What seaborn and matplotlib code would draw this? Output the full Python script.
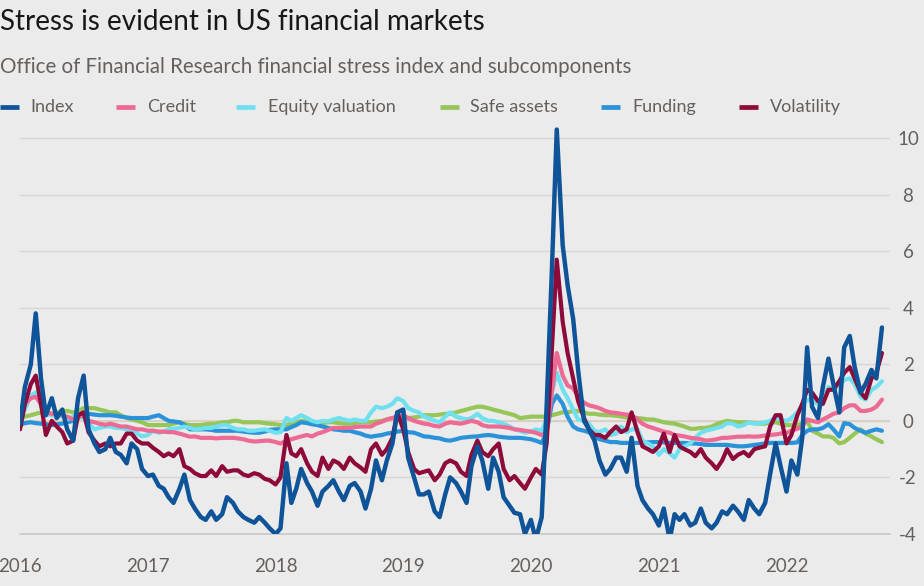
import numpy as np
import pandas as pd
import matplotlib
matplotlib.use("Agg")
import matplotlib.pyplot as plt
import matplotlib.dates as mdates
from matplotlib.lines import Line2D
import seaborn as sns

# ---- data (semi-monthly observations, Jan 2016 - Oct 2022) ----
dates = pd.date_range("2016-01-01", "2022-10-01", freq="SMS")

index_vals = [
    -0.1, 1.2, 2.0, 3.8, 1.5, 0.2, 0.8, 0.1, 0.4, -0.3,
    -0.7, 0.8, 1.6, -0.3, -0.8, -1.1, -1.0, -0.6, -1.1, -1.2,
    -1.5, -0.8, -1.0, -1.7, -1.95, -1.9, -2.3, -2.4, -2.7, -2.9,
    -2.4, -1.9, -2.8, -3.1, -3.4, -3.5, -3.2, -3.5, -3.3, -2.7,
    -2.9, -3.2, -3.4, -3.5, -3.6, -3.4, -3.6, -3.8, -4.0, -3.8,
    -1.5, -2.9, -2.4, -1.7, -2.2, -2.5, -3.0, -2.5, -2.3, -2.1,
    -2.5, -2.8, -2.3, -2.2, -2.5, -3.1, -2.4, -1.4, -2.1, -1.4,
    -0.8, 0.3, 0.4, -1.3, -2.0, -2.6, -2.6, -2.5, -3.2, -3.4,
    -2.6, -2.0, -2.2, -2.5, -2.9, -1.6, -0.9, -1.4, -2.4, -1.3,
    -1.8, -2.7, -3.0, -3.25, -3.3, -4.0, -3.5, -4.2, -3.4, 0.5,
    5.3, 10.3, 6.2, 4.8, 3.6, 1.8, 0.0, -0.3, -0.7, -1.4,
    -1.9, -1.7, -1.3, -1.3, -1.8, -0.6, -2.3, -2.8, -3.1, -3.3,
    -3.7, -3.1, -4.2, -3.3, -3.5, -3.3, -3.7, -3.6, -3.1, -3.6,
    -3.8, -3.6, -3.2, -3.3, -3.0, -3.2, -3.5, -2.8, -3.1, -3.3,
    -2.9, -1.9, -0.8, -1.6, -2.5, -1.4, -1.9, -0.6, 2.6, 0.5,
    0.1, 1.2, 2.2, 1.3, 0.3, 2.6, 3.0, 1.9, 1.0, 1.3,
    1.8, 1.5, 3.3,
]

credit_vals = [
    0.35, 0.6, 0.8, 0.85, 0.6, 0.3, 0.25, 0.25, 0.2, 0.15,
    0.05, 0.15, 0.2, 0.0, -0.05, -0.1, -0.14, -0.1, -0.15, -0.2,
    -0.2, -0.25, -0.3, -0.3, -0.35, -0.35, -0.38, -0.38, -0.4, -0.4,
    -0.45, -0.5, -0.56, -0.55, -0.6, -0.6, -0.6, -0.62, -0.6, -0.6,
    -0.6, -0.62, -0.65, -0.7, -0.73, -0.72, -0.7, -0.7, -0.75, -0.8,
    -0.7, -0.65, -0.6, -0.55, -0.5, -0.55, -0.45, -0.4, -0.32, -0.25,
    -0.25, -0.25, -0.25, -0.22, -0.2, -0.2, -0.2, -0.1, -0.03, 0.05,
    0.1, 0.15, 0.2, 0.1, 0.0, -0.05, -0.1, -0.12, -0.18, -0.2,
    -0.1, -0.05, -0.08, -0.1, -0.05, 0.0, -0.05, -0.15, -0.2, -0.2,
    -0.2, -0.22, -0.25, -0.3, -0.32, -0.35, -0.38, -0.42, -0.5, -0.4,
    1.0, 2.4, 1.6, 1.25, 1.15, 0.85, 0.64, 0.55, 0.5, 0.45,
    0.35, 0.3, 0.28, 0.25, 0.22, 0.2, 0.05, -0.1, -0.2, -0.25,
    -0.32, -0.38, -0.42, -0.5, -0.52, -0.55, -0.6, -0.62, -0.65, -0.7,
    -0.68, -0.65, -0.6, -0.6, -0.58, -0.56, -0.56, -0.55, -0.56, -0.55,
    -0.52, -0.5, -0.48, -0.45, -0.42, -0.35, -0.28, -0.2, 0.05, 0.0,
    -0.05, 0.05, 0.15, 0.25, 0.3, 0.45, 0.55, 0.55, 0.35, 0.35,
    0.4, 0.5, 0.75,
]

equity_vals = [
    0.05, 0.4, 0.9, 1.0, 0.5, 0.25, 0.2, 0.2, 0.15, 0.05,
    0.15, 0.25, 0.1, -0.1, -0.3, -0.25, -0.2, -0.2, -0.25, -0.25,
    -0.3, -0.3, -0.45, -0.55, -0.5, -0.35, -0.42, -0.38, -0.3, -0.28,
    -0.25, -0.2, -0.25, -0.3, -0.28, -0.25, -0.25, -0.2, -0.15, -0.15,
    -0.25, -0.3, -0.3, -0.35, -0.35, -0.32, -0.3, -0.35, -0.42, -0.4,
    0.1, 0.0, 0.1, 0.2, 0.1, 0.0, -0.05, 0.0, -0.02, 0.05,
    0.1, 0.05, 0.0, 0.05, 0.0, 0.0, 0.3, 0.5, 0.45, 0.5,
    0.6, 0.8, 0.7, 0.45, 0.35, 0.3, 0.15, 0.1, 0.0, -0.05,
    0.15, 0.3, 0.15, 0.1, 0.05, 0.1, 0.25, 0.1, 0.0, 0.0,
    -0.05, -0.1, -0.2, -0.3, -0.35, -0.42, -0.38, -0.3, -0.35, 0.0,
    1.0, 1.7, 1.1, 0.8, 0.4, 0.05, 0.0, -0.1, -0.35, -0.4,
    -0.3, -0.5, -0.45, -0.2, -0.4, -0.3, -0.3, -0.7, -0.8, -0.9,
    -1.2, -1.0, -1.15, -1.3, -1.0, -0.9, -0.8, -0.6, -0.42, -0.35,
    -0.3, -0.25, -0.2, -0.08, -0.1, -0.2, -0.15, -0.05, -0.1, -0.1,
    -0.05, 0.0, 0.1, 0.05, 0.0, 0.1, 0.3, 0.55, 0.75, 0.7,
    0.6, 0.8, 1.2, 1.1, 1.25, 1.45, 1.5, 1.3, 0.85, 0.75,
    1.1, 1.2, 1.4,
]

safe_vals = [
    0.1, 0.15, 0.2, 0.25, 0.3, 0.3, 0.25, 0.3, 0.35, 0.35,
    0.3, 0.35, 0.45, 0.45, 0.45, 0.4, 0.35, 0.3, 0.3, 0.2,
    0.1, 0.05, 0.0, -0.05, -0.15, -0.15, -0.15, -0.15, -0.15, -0.1,
    -0.05, -0.1, -0.15, -0.15, -0.15, -0.12, -0.1, -0.1, -0.05, -0.05,
    0.0, 0.0, -0.05, -0.05, -0.05, -0.05, -0.08, -0.1, -0.12, -0.15,
    -0.15, -0.1, -0.05, 0.0, 0.0, -0.05, -0.1, -0.08, -0.05, -0.05,
    -0.08, -0.1, -0.1, -0.08, -0.05, -0.05, -0.05, -0.02, 0.0, 0.05,
    0.1, 0.1, 0.1, 0.1, 0.12, 0.15, 0.2, 0.2, 0.2, 0.22,
    0.25, 0.25, 0.3, 0.35, 0.4, 0.45, 0.5, 0.5, 0.45, 0.4,
    0.35, 0.3, 0.25, 0.2, 0.1, 0.12, 0.15, 0.15, 0.15, 0.15,
    0.2, 0.25, 0.3, 0.3, 0.35, 0.35, 0.3, 0.25, 0.25, 0.22,
    0.2, 0.2, 0.18, 0.15, 0.12, 0.1, 0.1, 0.08, 0.05, 0.05,
    0.0, -0.05, -0.08, -0.1, -0.15, -0.2, -0.28, -0.28, -0.25, -0.25,
    -0.2, -0.12, -0.05, 0.0, -0.03, -0.05, -0.05, -0.05, -0.08, -0.1,
    -0.1, -0.05, -0.05, -0.1, -0.15, -0.15, -0.15, -0.1, 0.0, -0.35,
    -0.45, -0.55, -0.55, -0.6, -0.8, -0.75, -0.6, -0.45, -0.3, -0.45,
    -0.55, -0.65, -0.75,
]

funding_vals = [
    -0.15, -0.08, -0.05, -0.08, -0.1, -0.12, -0.15, -0.12, -0.1, -0.05,
    0.0, 0.1, 0.2, 0.25, 0.22, 0.2, 0.2, 0.2, 0.18, 0.15,
    0.12, 0.1, 0.1, 0.1, 0.1, 0.15, 0.2, 0.1, 0.0, -0.02,
    -0.05, -0.15, -0.3, -0.3, -0.3, -0.3, -0.32, -0.35, -0.35, -0.35,
    -0.35, -0.35, -0.38, -0.4, -0.42, -0.42, -0.38, -0.32, -0.3, -0.3,
    -0.3, -0.22, -0.15, -0.05, -0.08, -0.12, -0.15, -0.2, -0.25, -0.3,
    -0.32, -0.35, -0.35, -0.4, -0.45, -0.52, -0.56, -0.53, -0.5, -0.45,
    -0.42, -0.38, -0.35, -0.4, -0.42, -0.48, -0.55, -0.56, -0.6, -0.62,
    -0.68, -0.7, -0.65, -0.6, -0.58, -0.56, -0.55, -0.52, -0.5, -0.52,
    -0.56, -0.58, -0.6, -0.6, -0.6, -0.62, -0.65, -0.7, -0.78, -0.4,
    0.6, 0.9, 0.6, 0.15, -0.2, -0.3, -0.35, -0.4, -0.56, -0.65,
    -0.7, -0.75, -0.75, -0.78, -0.78, -0.78, -0.78, -0.78, -0.76, -0.75,
    -0.75, -0.76, -0.78, -0.78, -0.78, -0.78, -0.8, -0.8, -0.82, -0.85,
    -0.85, -0.85, -0.85, -0.85, -0.88, -0.9, -0.9, -0.88, -0.85, -0.83,
    -0.8, -0.78, -0.78, -0.78, -0.78, -0.78, -0.76, -0.5, -0.35, -0.3,
    -0.3, -0.25, -0.12, -0.3, -0.55, -0.08, -0.12, -0.25, -0.35, -0.42,
    -0.35, -0.3, -0.35,
]

volatility_vals = [
    -0.3, 0.6, 1.3, 1.6, 0.6, -0.5, 0.0, -0.2, -0.4, -0.8,
    -0.7, 0.2, 0.3, -0.4, -0.7, -0.9, -0.8, -0.9, -0.8, -0.8,
    -0.45, -0.45, -0.7, -0.8, -0.8, -0.95, -1.1, -1.25, -1.15, -1.25,
    -1.0, -1.6, -1.7, -1.85, -1.95, -1.95, -1.75, -1.95, -1.6, -1.8,
    -1.75, -1.75, -1.9, -1.95, -1.85, -1.9, -2.05, -2.1, -2.25, -2.0,
    -0.5, -1.15, -1.25, -1.0, -1.5, -1.8, -1.95, -1.3, -1.7, -1.4,
    -1.5, -1.7, -1.3, -1.5, -1.65, -1.8, -1.0, -0.8, -1.2, -1.0,
    -0.6, 0.3, -0.3, -1.1, -1.7, -1.85, -1.8, -1.75, -2.1, -1.9,
    -1.5, -1.4, -1.5, -1.8, -1.95, -1.2, -0.7, -1.1, -1.25, -1.0,
    -0.8, -1.7, -2.1, -1.95, -2.2, -2.4, -2.0, -1.7, -1.9, -0.8,
    2.5, 5.7, 3.5, 2.4, 1.5, 0.7, 0.1, -0.3, -0.5, -0.5,
    -0.6, -0.4, -0.2, -0.4, -0.3, 0.3, -0.4, -0.9, -1.0, -1.1,
    -0.9, -0.45, -1.1, -0.5, -0.9, -1.0, -1.1, -1.25, -1.0, -1.3,
    -1.5, -1.7, -1.4, -1.0, -1.35, -1.2, -1.1, -1.25, -1.0, -0.95,
    -0.9, -0.2, 0.2, 0.2, -0.8, -0.5, 0.2, 0.6, 1.1, 1.0,
    0.7, 0.6, 1.1, 1.1, 1.4, 1.7, 1.9, 1.5, 1.0, 0.8,
    1.5, 1.7, 2.4,
]

series_names = ["Index", "Credit", "Equity valuation", "Safe assets", "Funding", "Volatility"]
series_values = [index_vals, credit_vals, equity_vals, safe_vals, funding_vals, volatility_vals]
colors = {
    "Index": "#0f5499",
    "Credit": "#ec6a93",
    "Equity valuation": "#6fe0f0",
    "Safe assets": "#96c657",
    "Funding": "#2a92d8",
    "Volatility": "#8d0a3a",
}
y_ticks = [-4, -2, 0, 2, 4, 6, 8, 10]

frames = []
for name, vals in zip(series_names, series_values):
    frames.append(pd.DataFrame({"date": dates, "value": vals, "series": name}))
df = pd.concat(frames, ignore_index=True)

# ---- style ----
BG = "#ebebeb"
sns.set_theme(style="white")
plt.rcParams["font.family"] = ["Lato", "DejaVu Sans"]

W, H = 924, 586
fig = plt.figure(figsize=(W / 100, H / 100), dpi=100, facecolor=BG)

def fx(px):
    return px / W

def fy(py):
    return 1 - py / H

ax_left, ax_right, ax_top, ax_bottom = 20, 890, 125, 534
ax = fig.add_axes([fx(ax_left), fy(ax_bottom), fx(ax_right - ax_left), (ax_bottom - ax_top) / H])
ax.set_facecolor(BG)

draw_order = ["Safe assets", "Funding", "Equity valuation", "Credit", "Volatility", "Index"]
for z, name in enumerate(draw_order):
    sub = df[df["series"] == name]
    sns.lineplot(data=sub, x="date", y="value", color=colors[name],
                 lw=3.2 if name == "Index" else 3.0,
                 ax=ax, legend=False, zorder=3 + z, solid_capstyle="round",
                 solid_joinstyle="round")

ax.set_xlim(pd.Timestamp("2016-01-01"), pd.Timestamp("2022-10-24"))
ax.set_ylim(-4, 10.46)

ax.set_yticks(y_ticks)
ax.yaxis.grid(True, color="#d6d6d6", lw=1)
ax.xaxis.grid(False)
ax.axhline(0, color="#d9cfbf", lw=1.2, zorder=2)
ax.set_axisbelow(True)

for s in ["top", "left", "right"]:
    ax.spines[s].set_visible(False)
ax.spines["bottom"].set_color("#c8c8c8")
ax.spines["bottom"].set_linewidth(1.2)

ax.yaxis.tick_right()
ax.tick_params(axis="y", length=0, pad=13, labelsize=13.5, labelcolor="#66605c")
ax.set_yticklabels([str(v) for v in y_ticks])
for lab in ax.get_yticklabels():
    lab.set_horizontalalignment("center")

ax.xaxis.set_major_locator(mdates.YearLocator())
ax.xaxis.set_major_formatter(mdates.DateFormatter("%Y"))
ax.xaxis.set_minor_locator(mdates.MonthLocator())
ax.tick_params(axis="x", which="major", length=9, width=1.1, color="#c8c8c8",
               pad=8, labelsize=13.5, labelcolor="#66605c", direction="out")
ax.tick_params(axis="x", which="minor", length=5, width=1, color="#cfcfcf", direction="out")
ax.set_xlabel("")
ax.set_ylabel("")

# ---- titles ----
fig.text(fx(0), fy(22), "Stress is evident in US financial markets", fontsize=20,
         color="#1a1817", va="center", ha="left")
fig.text(fx(0), fy(67), "Office of Financial Research financial stress index and subcomponents",
         fontsize=14.8, color="#66605c", va="center", ha="left")

# ---- legend ----
legend_pos = {
    "Index": (0, 30),
    "Credit": (116, 147),
    "Equity valuation": (236, 268),
    "Safe assets": (440, 470),
    "Funding": (601, 632),
    "Volatility": (739, 770),
}
for name in series_names:
    hx, tx = legend_pos[name]
    fig.add_artist(Line2D([fx(hx), fx(hx + 19)], [fy(107), fy(107)], color=colors[name],
                          lw=3.4, transform=fig.transFigure, solid_capstyle="butt"))
    fig.text(fx(tx), fy(107), name, fontsize=13, color="#66605c", va="center", ha="left")

fig.savefig("out.png", dpi=100, facecolor=BG)
